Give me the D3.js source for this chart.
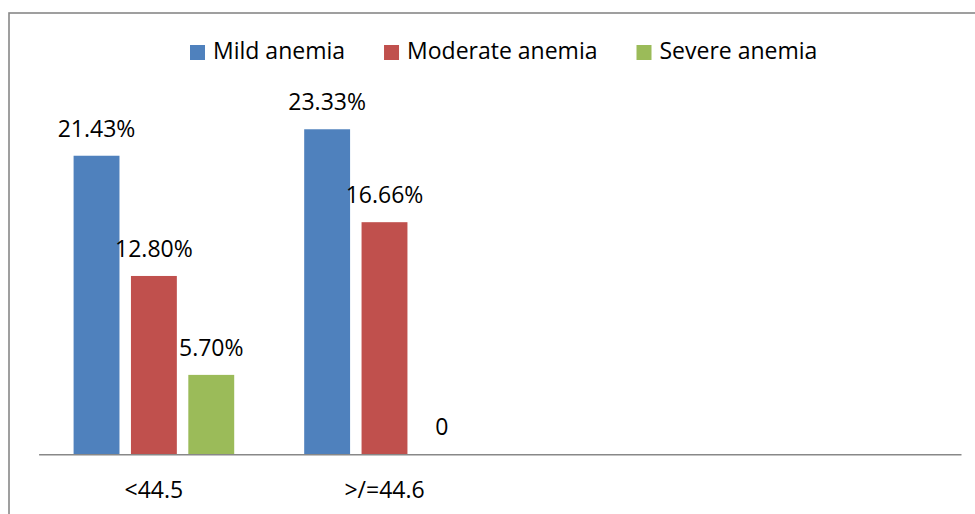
<!DOCTYPE html>
<html>
<head>
<meta charset="utf-8">
<script src="https://cdn.jsdelivr.net/npm/d3@7"></script>
<style>
  body { margin: 0; background: #fff; }
  text { font-family: "Open Sans", sans-serif; fill: #000; }
</style>
</head>
<body>
<div id="chart"></div>
<script>
// chart data
var categories = ["<44.5", ">/=44.6", "", ""];
var seriesNames = ["Mild anemia", "Moderate anemia", "Severe anemia"];
var mild = [21.43, 23.33];
var moderate = [12.80, 16.66];
var severe = [5.70, 0];
var mildLabels = ["21.43%", "23.33%"];
var moderateLabels = ["12.80%", "16.66%"];
var severeLabels = ["5.70%", "0"];

var colors = ["#4F81BD", "#C0504D", "#9BBB59"];

function showChart() {
  var width = 975, height = 514;

  var svg = d3
    .select("#chart")
    .append("svg")
    .attr("width", width)
    .attr("height", height);

  // outer frame (right and bottom edges are outside the picture)
  svg.append("rect")
    .attr("x", 9)
    .attr("y", 13)
    .attr("width", 1000)
    .attr("height", 600)
    .attr("fill", "none")
    .attr("stroke", "#888")
    .attr("stroke-width", 1.6);

  var x = d3.scaleBand()
    .domain(d3.range(categories.length))
    .range([38.6, 961]);

  var xSub = d3.scaleBand()
    .domain(d3.range(seriesNames.length))
    .range([0, x.bandwidth()])
    .paddingInner(0.2)
    .paddingOuter(0.61);

  var y = d3.scaleLinear().domain([0, 25]).range([454.3, 106]);

  var values = [mild, moderate, severe];
  var labels = [mildLabels, moderateLabels, severeLabels];

  var rows = [];
  values.forEach(function (vals, s) {
    vals.forEach(function (v, c) {
      rows.push({ s: s, c: c, v: v, label: labels[s][c] });
    });
  });

  var g = svg.append("g");

  g.selectAll(".bar")
    .data(rows)
    .enter()
    .append("rect")
    .attr("class", "bar")
    .attr("x", function (d) { return x(d.c) + xSub(d.s); })
    .attr("y", function (d) { return y(d.v); })
    .attr("width", xSub.bandwidth())
    .attr("height", function (d) { return y(0) - y(d.v); })
    .attr("fill", function (d) { return colors[d.s]; });

  g.selectAll(".label")
    .data(rows)
    .enter()
    .append("text")
    .attr("class", "label")
    .attr("x", function (d) { return x(d.c) + xSub(d.s) + xSub.bandwidth() / 2; })
    .attr("y", function (d) { return y(d.v) - 19; })
    .attr("text-anchor", "middle")
    .style("font-size", "23px")
    .text(function (d) { return d.label; });

  // category axis
  var axis = svg.append("g")
    .attr("transform", "translate(0," + y(0) + ")")
    .call(
      d3.axisBottom(x)
        .tickSize(0)
        .tickPadding(27)
        .tickFormat(function (i) { return categories[i]; })
    );
  axis.select(".domain").attr("stroke", "#888").attr("stroke-width", 1.6);
  axis.selectAll(".tick text")
    .style("font-size", "23px")
    .style("font-family", "'Open Sans', sans-serif")
    .attr("fill", "#000");

  // legend
  var legend = svg.append("g").attr("transform", "translate(190,45)");
  var lx = 0;
  seriesNames.forEach(function (name, i) {
    var item = legend.append("g").attr("transform", "translate(" + lx + ",0)");
    item.append("rect")
      .attr("width", 15)
      .attr("height", 15)
      .attr("fill", colors[i]);
    var t = item.append("text")
      .attr("x", 23)
      .attr("y", 14)
      .style("font-size", "23px")
      .text(name);
    lx += 23 + t.node().getComputedTextLength() + 39;
  });
}

showChart();
</script>
</body>
</html>
